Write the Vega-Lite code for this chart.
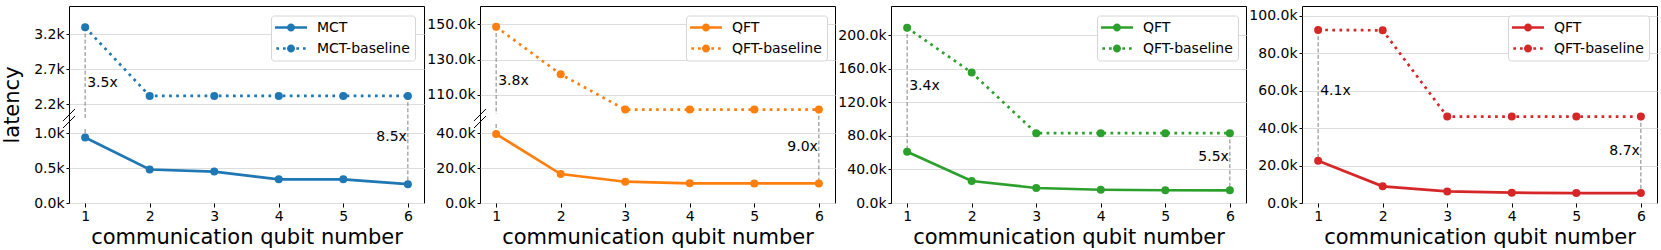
{
  "$schema": "https://vega.github.io/schema/vega-lite/v6.json",
  "padding": {"left": 1, "top": 5, "right": 0, "bottom": 0},
  "background": "white",
  "spacing": 56,
  "bounds": "flush",
  "config": {
    "font": "DejaVu Sans",
    "view": {"stroke": "#000000", "strokeWidth": 1},
    "axis": {"domain": false, "tickColor": "#000000", "labelColor": "#000000", "titleColor": "#000000", "labelFontSize": 14, "titleFontSize": 21, "titleFontWeight": "normal", "gridColor": "#dddddd", "gridWidth": 1},
    "axisX": {"grid": false, "tickSize": 4, "labelPadding": 2, "titlePadding": 3},
    "axisY": {"grid": true, "tickSize": 3, "labelPadding": 2, "titlePadding": 11},
    "legend": {"orient": "none", "legendX": 206, "legendY": 9.5, "symbolSize": 64, "padding": 5, "rowPadding": 7, "labelFontSize": 14, "labelColor": "#000000", "fillColor": "#ffffff", "strokeColor": "#d6d6d6", "cornerRadius": 3, "symbolStrokeWidth": 0, "symbolOpacity": 1, "labelLimit": 0, "title": null}
  },
  "resolve": {
    "scale": {"color": "independent", "x": "independent", "y": "independent"},
    "legend": {"color": "independent"}
  },
  "hconcat": [
    {
      "width": 355, "height": 197,
      "data": {"values": [
        {"x": 1, "y": 940, "s": "MCT"}, {"x": 2, "y": 480, "s": "MCT"}, {"x": 3, "y": 450, "s": "MCT"}, {"x": 4, "y": 340, "s": "MCT"}, {"x": 5, "y": 340, "s": "MCT"}, {"x": 6, "y": 270, "s": "MCT"},
        {"x": 1, "y": 3300, "s": "MCT-baseline"}, {"x": 2, "y": 2320, "s": "MCT-baseline"}, {"x": 3, "y": 2320, "s": "MCT-baseline"}, {"x": 4, "y": 2320, "s": "MCT-baseline"}, {"x": 5, "y": 2320, "s": "MCT-baseline"}, {"x": 6, "y": 2320, "s": "MCT-baseline"}]},
      "encoding": {
        "x": {"field": "x", "type": "quantitative", "scale": {"domain": [0.75, 6.25], "nice": false, "zero": false}, "axis": {"values": [1, 2, 3, 4, 5, 6], "format": "d", "title": "communication qubit number"}},
        "y": {"field": "y", "type": "quantitative", "scale": {"domain": [0, 1061, 1990, 3604], "range": [197, 123, 113, 0], "nice": false, "zero": false}, "axis": {"values": [0, 500, 1000, 2200, 2700, 3200], "labelExpr": "format(datum.value/1000, '.1f') + 'k'", "title": "latency"}}
      },
      "layer": [
        {"data": {"values": [{"x": 1, "y": 3300, "y2": 1990}, {"x": 1, "y": 1061, "y2": 940}, {"x": 6, "y": 2320, "y2": 270}]},
         "mark": {"type": "rule", "color": "#808080", "strokeWidth": 1, "strokeDash": [4, 2.2]},
         "encoding": {"y2": {"field": "y2"}}},
        {"transform": [{"filter": "datum.s == 'MCT'"}],
         "mark": {"type": "line", "strokeWidth": 2.7, "color": "#1f77b4"}, "encoding": {}},
        {"transform": [{"filter": "datum.s == 'MCT-baseline'"}],
         "mark": {"type": "line", "strokeWidth": 2.7, "color": "#1f77b4", "strokeDash": [2.7, 4.4], "strokeCap": "butt"}, "encoding": {}},
        {"mark": {"type": "point", "filled": true, "size": 64, "opacity": 1},
         "encoding": {"color": {"field": "s", "type": "nominal", "scale": {"domain": ["MCT", "MCT-baseline"], "range": ["#1f77b4", "#1f77b4"]},
           "legend": {"title": null, "legendX": 202, "encode": {
             "symbols": {"update": {"x": {"value": 15}, "y": {"value": 7}, "size": {"value": 64}, "strokeWidth": {"value": 0}, "shape": {"signal": "datum.value == 'MCT' ? 'M-4,-0.34H4V0.34H-4Z M1,0A1,1,0,1,1,-1,0A1,1,0,1,1,1,0Z' : 'M-3.67,-0.34H-3V0.34H-3.67Z M-2,-0.34H-1.33V0.34H-2Z M1.33,-0.34H2V0.34H1.33Z M3,-0.34H3.67V0.34H3Z M1,0A1,1,0,1,1,-1,0A1,1,0,1,1,1,0Z'"}}},
             "labels": {"update": {"x": {"value": 41}, "y": {"value": 7}}}}}}}},
        {"data": {"values": [{"x": 1, "y": 2508, "t": "3.5x"}]},
         "mark": {"type": "text", "align": "left", "baseline": "middle", "dx": 2, "fontSize": 14, "color": "#000000"},
         "encoding": {"text": {"field": "t"}}},
        {"data": {"values": [{"x": 6, "y": 953, "t": "8.5x"}]},
         "mark": {"type": "text", "align": "right", "baseline": "middle", "dx": -1, "fontSize": 14, "color": "#000000"},
         "encoding": {"text": {"field": "t"}}},
        {"data": {"values": [{"x": 0.657, "x2": 0.843, "y": 1804, "y2": 2133}, {"x": 0.657, "x2": 0.843, "y": 1154, "y2": 2033}]},
         "mark": {"type": "rule", "color": "#000000", "strokeWidth": 1},
         "encoding": {"x2": {"field": "x2"}, "y2": {"field": "y2"}}}
      ]
    },
    {
      "width": 355, "height": 197,
      "data": {"values": [
        {"x": 1, "y": 39500, "s": "QFT"}, {"x": 2, "y": 16600, "s": "QFT"}, {"x": 3, "y": 12200, "s": "QFT"}, {"x": 4, "y": 11300, "s": "QFT"}, {"x": 5, "y": 11200, "s": "QFT"}, {"x": 6, "y": 11200, "s": "QFT"},
        {"x": 1, "y": 148600, "s": "QFT-baseline"}, {"x": 2, "y": 121700, "s": "QFT-baseline"}, {"x": 3, "y": 101700, "s": "QFT-baseline"}, {"x": 4, "y": 101700, "s": "QFT-baseline"}, {"x": 5, "y": 101700, "s": "QFT-baseline"}, {"x": 6, "y": 101700, "s": "QFT-baseline"}]},
      "encoding": {
        "x": {"field": "x", "type": "quantitative", "scale": {"domain": [0.75, 6.25], "nice": false, "zero": false}, "axis": {"values": [1, 2, 3, 4, 5, 6], "format": "d", "title": "communication qubit number"}},
        "y": {"field": "y", "type": "quantitative", "scale": {"domain": [0, 45300, 99200, 160400], "range": [197, 118, 108, 0], "nice": false, "zero": false}, "axis": {"values": [0, 20000, 40000, 110000, 130000, 150000], "labelExpr": "format(datum.value/1000, '.1f') + 'k'", "title": null}}
      },
      "layer": [
        {"data": {"values": [{"x": 1, "y": 148600, "y2": 99200}, {"x": 1, "y": 45300, "y2": 39500}, {"x": 6, "y": 101700, "y2": 11200}]},
         "mark": {"type": "rule", "color": "#808080", "strokeWidth": 1, "strokeDash": [4, 2.2]},
         "encoding": {"y2": {"field": "y2"}}},
        {"transform": [{"filter": "datum.s == 'QFT'"}],
         "mark": {"type": "line", "strokeWidth": 2.7, "color": "#ff7f0e"}, "encoding": {}},
        {"transform": [{"filter": "datum.s == 'QFT-baseline'"}],
         "mark": {"type": "line", "strokeWidth": 2.7, "color": "#ff7f0e", "strokeDash": [2.7, 4.4], "strokeCap": "butt"}, "encoding": {}},
        {"mark": {"type": "point", "filled": true, "size": 64, "opacity": 1},
         "encoding": {"color": {"field": "s", "type": "nominal", "scale": {"domain": ["QFT", "QFT-baseline"], "range": ["#ff7f0e", "#ff7f0e"]},
           "legend": {"title": null, "encode": {
             "symbols": {"update": {"x": {"value": 15}, "y": {"value": 7}, "size": {"value": 64}, "strokeWidth": {"value": 0}, "shape": {"signal": "datum.value == 'QFT' ? 'M-4,-0.34H4V0.34H-4Z M1,0A1,1,0,1,1,-1,0A1,1,0,1,1,1,0Z' : 'M-3.67,-0.34H-3V0.34H-3.67Z M-2,-0.34H-1.33V0.34H-2Z M1.33,-0.34H2V0.34H1.33Z M3,-0.34H3.67V0.34H3Z M1,0A1,1,0,1,1,-1,0A1,1,0,1,1,1,0Z'"}}},
             "labels": {"update": {"x": {"value": 41}, "y": {"value": 7}}}}}}}},
        {"data": {"values": [{"x": 1, "y": 117900, "t": "3.8x"}]},
         "mark": {"type": "text", "align": "left", "baseline": "middle", "dx": 2, "fontSize": 14, "color": "#000000"},
         "encoding": {"text": {"field": "t"}}},
        {"data": {"values": [{"x": 6, "y": 32300, "t": "9.0x"}]},
         "mark": {"type": "text", "align": "right", "baseline": "middle", "dx": -1, "fontSize": 14, "color": "#000000"},
         "encoding": {"text": {"field": "t"}}},
        {"data": {"values": [{"x": 0.657, "x2": 0.843, "y": 61500, "y2": 102070}, {"x": 0.657, "x2": 0.843, "y": 43000, "y2": 88400}]},
         "mark": {"type": "rule", "color": "#000000", "strokeWidth": 1},
         "encoding": {"x2": {"field": "x2"}, "y2": {"field": "y2"}}}
      ]
    },
    {
      "width": 355, "height": 197,
      "data": {"values": [
        {"x": 1, "y": 61000, "s": "QFT"}, {"x": 2, "y": 26200, "s": "QFT"}, {"x": 3, "y": 17900, "s": "QFT"}, {"x": 4, "y": 15800, "s": "QFT"}, {"x": 5, "y": 15200, "s": "QFT"}, {"x": 6, "y": 15100, "s": "QFT"},
        {"x": 1, "y": 209000, "s": "QFT-baseline"}, {"x": 2, "y": 155500, "s": "QFT-baseline"}, {"x": 3, "y": 83300, "s": "QFT-baseline"}, {"x": 4, "y": 83300, "s": "QFT-baseline"}, {"x": 5, "y": 83300, "s": "QFT-baseline"}, {"x": 6, "y": 83300, "s": "QFT-baseline"}]},
      "encoding": {
        "x": {"field": "x", "type": "quantitative", "scale": {"domain": [0.75, 6.25], "nice": false, "zero": false}, "axis": {"values": [1, 2, 3, 4, 5, 6], "format": "d", "title": "communication qubit number"}},
        "y": {"field": "y", "type": "quantitative", "scale": {"domain": [0, 234900], "nice": false, "zero": false}, "axis": {"values": [0, 40000, 80000, 120000, 160000, 200000], "labelExpr": "format(datum.value/1000, '.1f') + 'k'", "title": null}}
      },
      "layer": [
        {"data": {"values": [{"x": 1, "y": 209000, "y2": 61000}, {"x": 6, "y": 83300, "y2": 15100}]},
         "mark": {"type": "rule", "color": "#808080", "strokeWidth": 1, "strokeDash": [4, 2.2]},
         "encoding": {"y2": {"field": "y2"}}},
        {"transform": [{"filter": "datum.s == 'QFT'"}],
         "mark": {"type": "line", "strokeWidth": 2.7, "color": "#2ca02c"}, "encoding": {}},
        {"transform": [{"filter": "datum.s == 'QFT-baseline'"}],
         "mark": {"type": "line", "strokeWidth": 2.7, "color": "#2ca02c", "strokeDash": [2.7, 4.4], "strokeCap": "butt"}, "encoding": {}},
        {"mark": {"type": "point", "filled": true, "size": 64, "opacity": 1},
         "encoding": {"color": {"field": "s", "type": "nominal", "scale": {"domain": ["QFT", "QFT-baseline"], "range": ["#2ca02c", "#2ca02c"]},
           "legend": {"title": null, "encode": {
             "symbols": {"update": {"x": {"value": 15}, "y": {"value": 7}, "size": {"value": 64}, "strokeWidth": {"value": 0}, "shape": {"signal": "datum.value == 'QFT' ? 'M-4,-0.34H4V0.34H-4Z M1,0A1,1,0,1,1,-1,0A1,1,0,1,1,1,0Z' : 'M-3.67,-0.34H-3V0.34H-3.67Z M-2,-0.34H-1.33V0.34H-2Z M1.33,-0.34H2V0.34H1.33Z M3,-0.34H3.67V0.34H3Z M1,0A1,1,0,1,1,-1,0A1,1,0,1,1,1,0Z'"}}},
             "labels": {"update": {"x": {"value": 41}, "y": {"value": 7}}}}}}}},
        {"data": {"values": [{"x": 1, "y": 139600, "t": "3.4x"}]},
         "mark": {"type": "text", "align": "left", "baseline": "middle", "dx": 2, "fontSize": 14, "color": "#000000"},
         "encoding": {"text": {"field": "t"}}},
        {"data": {"values": [{"x": 6, "y": 54300, "t": "5.5x"}]},
         "mark": {"type": "text", "align": "right", "baseline": "middle", "dx": -1, "fontSize": 14, "color": "#000000"},
         "encoding": {"text": {"field": "t"}}}
      ]
    },
    {
      "width": 355, "height": 197,
      "data": {"values": [
        {"x": 1, "y": 22600, "s": "QFT"}, {"x": 2, "y": 8900, "s": "QFT"}, {"x": 3, "y": 6200, "s": "QFT"}, {"x": 4, "y": 5500, "s": "QFT"}, {"x": 5, "y": 5300, "s": "QFT"}, {"x": 6, "y": 5300, "s": "QFT"},
        {"x": 1, "y": 92500, "s": "QFT-baseline"}, {"x": 2, "y": 92300, "s": "QFT-baseline"}, {"x": 3, "y": 46200, "s": "QFT-baseline"}, {"x": 4, "y": 46200, "s": "QFT-baseline"}, {"x": 5, "y": 46200, "s": "QFT-baseline"}, {"x": 6, "y": 46200, "s": "QFT-baseline"}]},
      "encoding": {
        "x": {"field": "x", "type": "quantitative", "scale": {"domain": [0.75, 6.25], "nice": false, "zero": false}, "axis": {"values": [1, 2, 3, 4, 5, 6], "format": "d", "title": "communication qubit number"}},
        "y": {"field": "y", "type": "quantitative", "scale": {"domain": [0, 105300], "nice": false, "zero": false}, "axis": {"values": [0, 20000, 40000, 60000, 80000, 100000], "labelExpr": "format(datum.value/1000, '.1f') + 'k'", "title": null}}
      },
      "layer": [
        {"data": {"values": [{"x": 1, "y": 92500, "y2": 22600}, {"x": 6, "y": 46200, "y2": 5300}]},
         "mark": {"type": "rule", "color": "#808080", "strokeWidth": 1, "strokeDash": [4, 2.2]},
         "encoding": {"y2": {"field": "y2"}}},
        {"transform": [{"filter": "datum.s == 'QFT'"}],
         "mark": {"type": "line", "strokeWidth": 2.7, "color": "#d62728"}, "encoding": {}},
        {"transform": [{"filter": "datum.s == 'QFT-baseline'"}],
         "mark": {"type": "line", "strokeWidth": 2.7, "color": "#d62728", "strokeDash": [2.7, 4.4], "strokeCap": "butt"}, "encoding": {}},
        {"mark": {"type": "point", "filled": true, "size": 64, "opacity": 1},
         "encoding": {"color": {"field": "s", "type": "nominal", "scale": {"domain": ["QFT", "QFT-baseline"], "range": ["#d62728", "#d62728"]},
           "legend": {"title": null, "encode": {
             "symbols": {"update": {"x": {"value": 15}, "y": {"value": 7}, "size": {"value": 64}, "strokeWidth": {"value": 0}, "shape": {"signal": "datum.value == 'QFT' ? 'M-4,-0.34H4V0.34H-4Z M1,0A1,1,0,1,1,-1,0A1,1,0,1,1,1,0Z' : 'M-3.67,-0.34H-3V0.34H-3.67Z M-2,-0.34H-1.33V0.34H-2Z M1.33,-0.34H2V0.34H1.33Z M3,-0.34H3.67V0.34H3Z M1,0A1,1,0,1,1,-1,0A1,1,0,1,1,1,0Z'"}}},
             "labels": {"update": {"x": {"value": 41}, "y": {"value": 7}}}}}}}},
        {"data": {"values": [{"x": 1, "y": 60000, "t": "4.1x"}]},
         "mark": {"type": "text", "align": "left", "baseline": "middle", "dx": 2, "fontSize": 14, "color": "#000000"},
         "encoding": {"text": {"field": "t"}}},
        {"data": {"values": [{"x": 6, "y": 27900, "t": "8.7x"}]},
         "mark": {"type": "text", "align": "right", "baseline": "middle", "dx": -1, "fontSize": 14, "color": "#000000"},
         "encoding": {"text": {"field": "t"}}}
      ]
    }
  ]
}
